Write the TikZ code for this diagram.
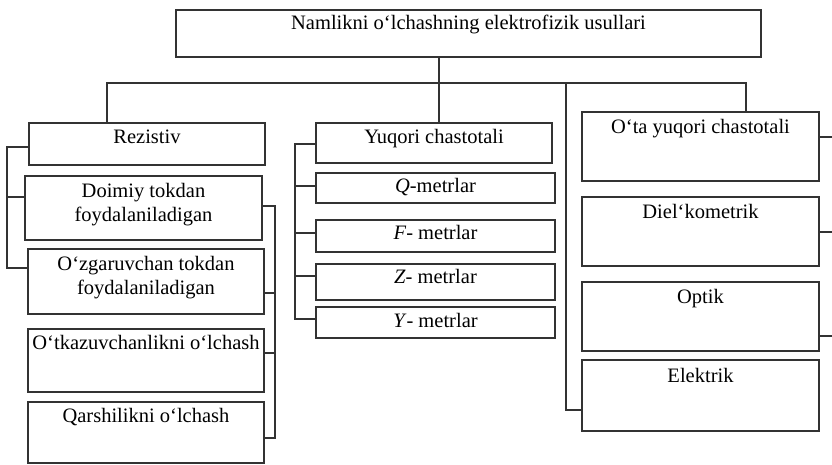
\documentclass[tikz,border=0pt]{standalone}
\usepackage{fontspec}
\setmainfont{Liberation Serif}
\definecolor{lc}{HTML}{333333}
\newcommand\mainfs{\fontsize{20.5}{24}\selectfont}
\newcommand\mybox[5]{\node[box, minimum width={#4-#2}, minimum height={#5-#3}] (#1) at ({(#2+#4)/2},{(#3+#5)/2}) {};}
\tikzset{
  box/.style={draw=lc, line width=1.2pt, inner sep=0pt, outer sep=0pt},
  lbl/.style={anchor=base, yshift=-20pt, inner sep=0pt, font=\mainfs, text=black},
  lbltwo/.style={anchor=north, yshift=-7pt, inner sep=0pt, align=center, font=\mainfs, text=black},
  link/.style={draw=lc, line width=1.2pt}
}
\begin{document}
\begin{tikzpicture}[x=1pt, y=-1pt]
\useasboundingbox (0,0) rectangle (832,464);
\fill[white] (0,0) rectangle (832,464);
% boxes
\mybox{top}{176}{10}{761}{57}
\mybox{rez}{29}{123}{265}{165}
\mybox{doi}{25}{176}{262}{240}
\mybox{ozg}{28}{249}{264}{314}
\mybox{otk}{28}{329}{264}{392}
\mybox{qar}{28}{402}{264}{463}
\mybox{yuq}{316}{123}{552}{163}
\mybox{qm}{316}{173}{555}{203}
\mybox{fm}{316}{220}{555}{252}
\mybox{zm}{316}{264}{555}{300}
\mybox{ym}{316}{307}{555}{338}
\mybox{ota}{582}{112}{819}{181}
\mybox{die}{582}{197}{819}{266}
\mybox{opt}{582}{282}{819}{351}
\mybox{ele}{582}{360}{819}{431}
% texts
\node[lbl, yshift=1pt] (topT) at (top.north) {Namlikni o`lchashning elektrofizik usullari};
\node[lbl] (rezT) at (rez.north) {Rezistiv};
\node[lbltwo] (doiT) at (doi.north) {Doimiy tokdan\\foydalaniladigan};
\node[lbltwo] (ozgT) at (ozg.north) {O`zgaruvchan tokdan\\foydalaniladigan};
\node[lbl] (otkT) at (otk.north) {O`tkazuvchanlikni o`lchash};
\node[lbl] (qarT) at (qar.north) {Qarshilikni o`lchash};
\node[lbl] (yuqT) at (yuq.north) {Yuqori chastotali};
\node[lbl, yshift=1pt] (qmT) at (qm.north) {\textit{Q}-metrlar};
\node[lbl, yshift=1pt] (fmT) at (fm.north) {\textit{F}- metrlar};
\node[lbl, yshift=1pt] (zmT) at (zm.north) {\textit{Z}- metrlar};
\node[lbl] (ymT) at (ym.north) {\textit{Y}- metrlar};
\node[lbl, yshift=-1pt] (otaT) at (ota.north) {O`ta yuqori chastotali};
\node[lbl, yshift=-1pt] (dieT) at (die.north) {Diel`kometrik};
\node[lbl, yshift=-1pt] (optT) at (opt.north) {Optik};
\node[lbl, yshift=-2pt] (eleT) at (ele.north) {Elektrik};
% main tree
\coordinate (j) at (439,83);
\coordinate (bl) at (107,83);
\coordinate (br) at (746,83);
\coordinate (bm) at (566,83);
\coordinate (e1) at (566,410);
\draw[link] (top.south -| j) -- (j);
\draw[link] (bl |- rez.north) -- (bl) -- (br) -- (br |- ota.north);
\draw[link] (j) -- (j |- yuq.north);
\draw[link] (bm) -- (e1) -- (e1 -| ele.west);
% left bracket
\coordinate (L1) at (7,147);
\coordinate (L2) at (7,197);
\coordinate (L3) at (7,268);
\draw[link] (L1 -| rez.west) -- (L1) -- (L3) -- (L3 -| ozg.west);
\draw[link] (L2) -- (L2 -| doi.west);
% right bracket of left column
\coordinate (R1) at (275,206);
\coordinate (R2) at (275,293);
\coordinate (R3) at (275,353);
\coordinate (R4) at (275,438);
\draw[link] (R1 -| doi.east) -- (R1) -- (R4) -- (R4 -| qar.east);
\draw[link] (R2) -- (R2 -| ozg.east);
\draw[link] (R3) -- (R3 -| otk.east);
% middle bracket
\coordinate (M1) at (295,144);
\coordinate (M2) at (295,186);
\coordinate (M3) at (295,233);
\coordinate (M4) at (295,276);
\coordinate (M5) at (295,319);
\draw[link] (M1 -| yuq.west) -- (M1) -- (M5) -- (M5 -| ym.west);
\draw[link] (M2) -- (M2 -| qm.west);
\draw[link] (M3) -- (M3 -| fm.west);
\draw[link] (M4) -- (M4 -| zm.west);
% right ticks
\coordinate (T1) at (832,137);
\coordinate (T2) at (832,232);
\coordinate (T3) at (832,336);
\draw[link] (T1 -| ota.east) -- (T1);
\draw[link] (T2 -| die.east) -- (T2);
\draw[link] (T3 -| opt.east) -- (T3);
\end{tikzpicture}
\end{document}
